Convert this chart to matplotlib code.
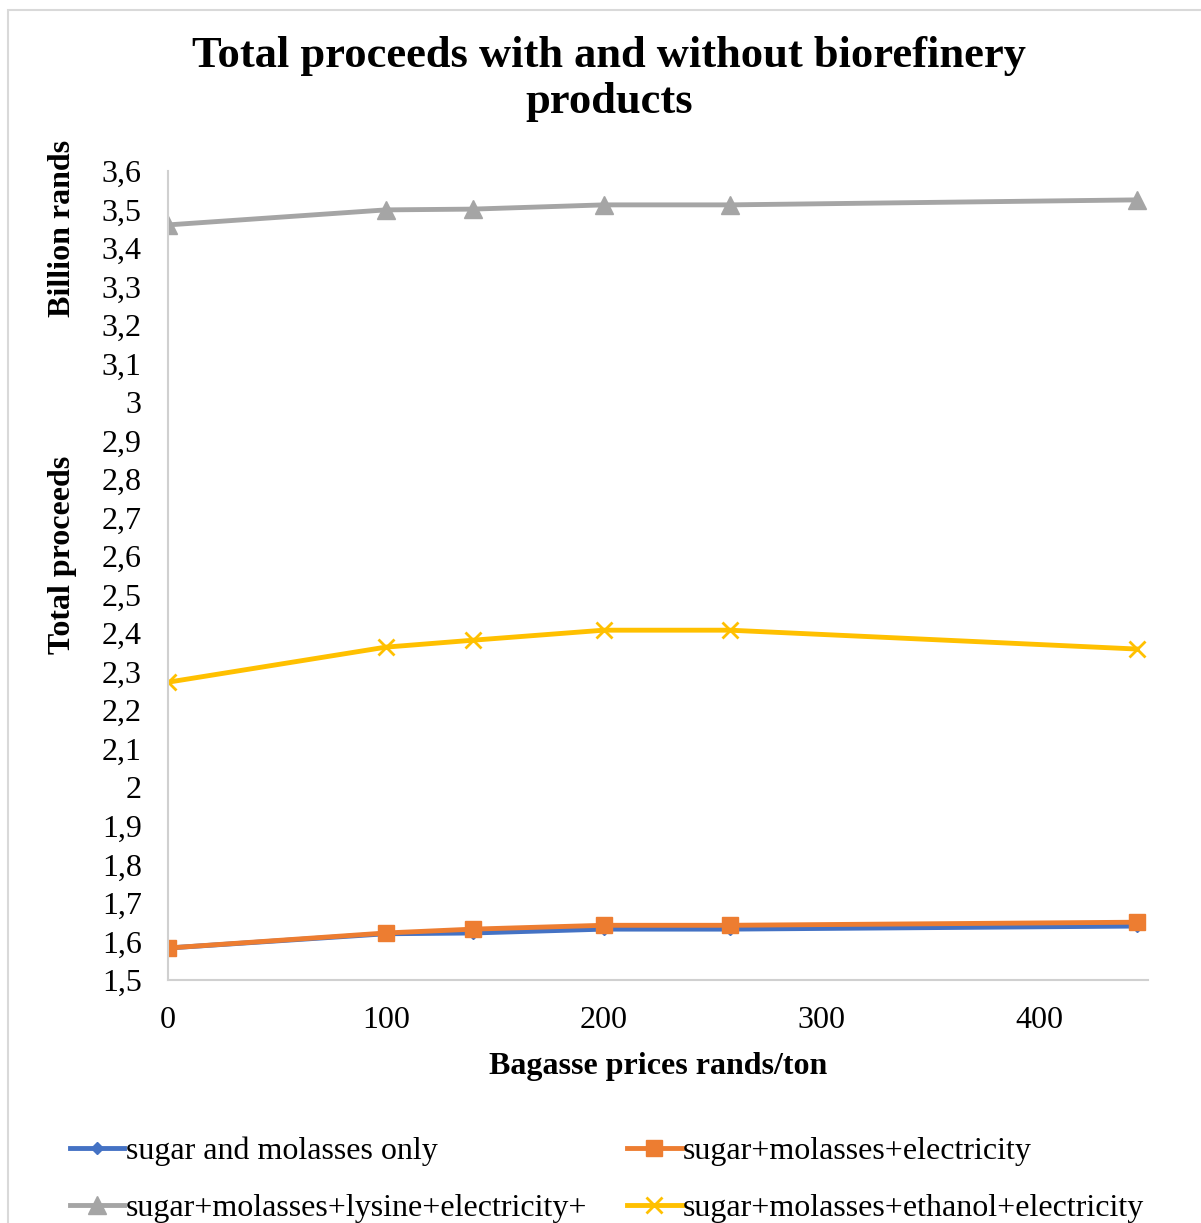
import matplotlib.pyplot as plt
from matplotlib.patches import Rectangle
from matplotlib.ticker import FuncFormatter

plt.rcParams['font.family'] = ['Liberation Serif', 'DejaVu Serif']

# bagasse price (rands/ton)
bagasse_price = [0, 100, 140, 200, 258, 445]

# total proceeds, billion rands
sugar_molasses = [1.583, 1.620, 1.622, 1.632, 1.632, 1.640]
sugar_molasses_elec = [1.583, 1.622, 1.632, 1.642, 1.642, 1.650]
lysine_elec = [3.460, 3.499, 3.501, 3.512, 3.512, 3.525]
ethanol_elec = [2.273, 2.364, 2.382, 2.408, 2.408, 2.359]

labels = ['sugar and molasses only',
          'sugar+molasses+electricity',
          'sugar+molasses+lysine+electricity+',
          'sugar+molasses+ethanol+electricity']

fig = plt.figure(figsize=(12.01, 12.23), dpi=100)
ax = fig.add_axes([0.1399, 0.1987, 0.816, 0.6615])

l1, = ax.plot(bagasse_price, sugar_molasses, color='#4472C4', lw=3.5,
              marker='D', ms=6, label=labels[0])
l2, = ax.plot(bagasse_price, sugar_molasses_elec, color='#ED7D31', lw=3.5,
              marker='s', ms=12, label=labels[1])
l3, = ax.plot(bagasse_price, lysine_elec, color='#A5A5A5', lw=3.5,
              marker='^', ms=13, label=labels[2])
l4, = ax.plot(bagasse_price, ethanol_elec, color='#FFC000', lw=3.5,
              marker='x', ms=12, mew=2, label=labels[3])

ax.set_xlim(0, 450)
ax.set_ylim(1.5, 3.6)
ax.set_xticks([0, 100, 200, 300, 400])
ax.set_yticks([1.5 + 0.1 * i for i in range(22)])


def comma_fmt(v, pos):
    s = ('%.1f' % v).rstrip('0').rstrip('.')
    return s.replace('.', ',')


ax.yaxis.set_major_formatter(FuncFormatter(comma_fmt))
ax.tick_params(axis='both', length=0)
ax.tick_params(axis='y', pad=19, labelsize=23)
ax.tick_params(axis='x', pad=19, labelsize=23)

for s in ['top', 'right']:
    ax.spines[s].set_visible(False)
for s in ['left', 'bottom']:
    ax.spines[s].set_color('#D0D0D0')
    ax.spines[s].set_linewidth(1.5)

ax.set_xlabel('Bagasse prices rands/ton', fontsize=23, fontweight='bold',
              labelpad=12)

fig.text(0.052, 1 - 228 / 1223, 'Billion rands', rotation=90, fontsize=23,
         fontweight='bold', ha='center', va='center')
fig.text(0.052, 1 - 555 / 1223, 'Total proceeds', rotation=90, fontsize=23,
         fontweight='bold', ha='center', va='center')

fig.text(0.507, 1 - 79 / 1223,
         'Total proceeds with and without biorefinery\nproducts',
         fontsize=32, fontweight='bold', ha='center', va='center',
         linespacing=1.2)

fig.legend([l1, l3, l2, l4], [labels[0], labels[2], labels[1], labels[3]],
           ncol=2, loc='upper left', bbox_to_anchor=(70 / 1201, 1 - 1137 / 1223),
           frameon=False, fontsize=23, handlelength=1.7, handletextpad=0.05,
           columnspacing=1.25, labelspacing=0.85, borderpad=0,
           borderaxespad=0)

fig.patches.append(Rectangle((8 / 1201, -0.1), 1.2, 1 - 10 / 1223 + 0.1,
                             transform=fig.transFigure, fill=False,
                             edgecolor='#D9D9D9', lw=1.5))

fig.savefig('out.png', dpi=100)
